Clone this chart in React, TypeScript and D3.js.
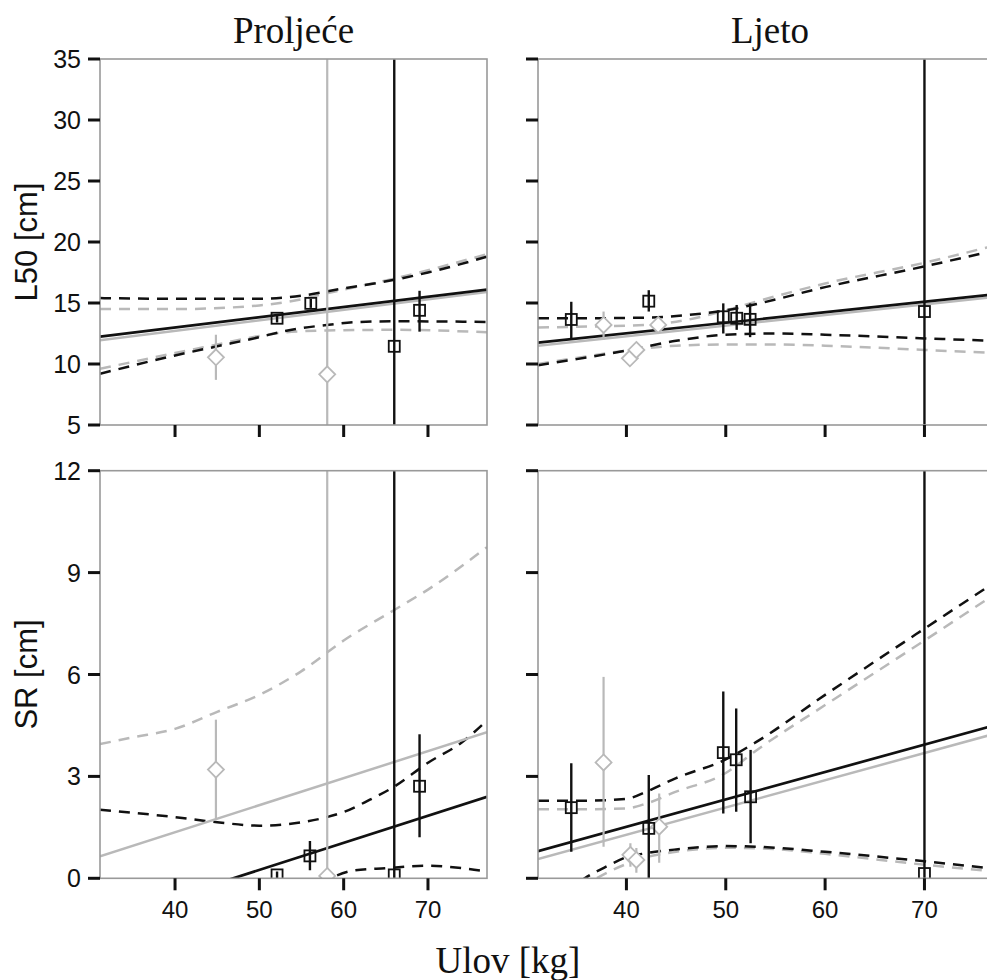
import * as d3 from 'd3';

type Pt = [number, number];
interface Obs { x: number; y: number; lo: number; hi: number }

const seasons = ['Proljeće', 'Ljeto'];
const xTicks = [40, 50, 60, 70];
const l50Ticks = [5, 10, 15, 20, 25, 30, 35];
const srTicks = [0, 3, 6, 9, 12];

// Proljeće – L50
const springL50Black: Pt[] = [[31.1, 12.25], [77, 16.1]];
const springL50Grey: Pt[] = [[31.1, 11.95], [77, 15.9]];
const springL50BlackUpper: Pt[] = [[31.1, 15.4], [40, 15.35], [50, 15.35], [55, 15.6], [60, 16.2], [66, 16.9], [70, 17.5], [77, 18.8]];
const springL50BlackLower: Pt[] = [[31.1, 9.2], [40, 10.7], [45, 11.45], [50, 12.2], [53, 12.7], [58, 13.2], [62, 13.45], [66, 13.5], [77, 13.45]];
const springL50GreyUpper: Pt[] = [[31.1, 14.5], [40, 14.5], [50, 14.8], [55, 15.3], [58, 15.8], [60, 16.1], [66, 17.0], [77, 19.0]];
const springL50GreyLower: Pt[] = [[31.1, 9.6], [40, 10.9], [45, 11.6], [50, 12.3], [53, 12.6], [58, 12.75], [66, 12.8], [77, 12.6]];
const springL50Squares: Obs[] = [
  { x: 52.1, y: 13.75, lo: 13.4, hi: 14.1 },
  { x: 56.1, y: 14.97, lo: 14.6, hi: 15.35 },
  { x: 66.0, y: 11.45, lo: -20, hi: 60 },
  { x: 69.0, y: 14.4, lo: 12.65, hi: 16.0 },
];
const springL50Diamonds: Obs[] = [
  { x: 44.85, y: 10.55, lo: 8.7, hi: 12.4 },
  { x: 58.05, y: 9.15, lo: -20, hi: 60 },
];

// Ljeto – L50
const summerL50Black: Pt[] = [[31.1, 11.75], [77, 15.7]];
const summerL50Grey: Pt[] = [[31.1, 11.5], [77, 15.5]];
const summerL50BlackUpper: Pt[] = [[31.1, 13.75], [35, 13.75], [42, 13.8], [46, 14.0], [50, 14.4], [53, 14.9], [60, 16.3], [70, 18.0], [77, 19.3]];
const summerL50BlackLower: Pt[] = [[31.1, 9.9], [35, 10.4], [40, 11.1], [45, 11.9], [50, 12.4], [55, 12.5], [60, 12.4], [70, 12.1], [77, 11.9]];
const summerL50GreyUpper: Pt[] = [[31.1, 13.0], [35, 13.05], [42, 13.2], [46, 13.6], [50, 14.4], [53, 15.1], [60, 16.6], [70, 18.3], [77, 19.7]];
const summerL50GreyLower: Pt[] = [[31.1, 10.0], [35, 10.5], [40, 11.1], [45, 11.5], [50, 11.6], [55, 11.6], [60, 11.5], [70, 11.15], [77, 10.9]];
const summerL50Squares: Obs[] = [
  { x: 34.45, y: 13.65, lo: 12.1, hi: 15.1 },
  { x: 42.25, y: 15.15, lo: 14.3, hi: 16.05 },
  { x: 49.75, y: 13.87, lo: 12.5, hi: 14.97 },
  { x: 51.1, y: 13.75, lo: 12.8, hi: 14.84 },
  { x: 52.45, y: 13.66, lo: 12.2, hi: 14.97 },
  { x: 70.0, y: 14.3, lo: -20, hi: 60 },
];
const summerL50Diamonds: Obs[] = [
  { x: 37.7, y: 13.2, lo: 11.97, hi: 14.3 },
  { x: 40.35, y: 10.47, lo: 10.1, hi: 10.85 },
  { x: 41.0, y: 11.15, lo: 10.75, hi: 11.55 },
  { x: 43.2, y: 13.2, lo: 12.65, hi: 13.6 },
];

// Proljeće – SR
const springSRBlack: Pt[] = [[31.1, -1.26], [77, 2.4]];
const springSRGrey: Pt[] = [[31.1, 0.65], [77, 4.3]];
const springSRBlackUpper: Pt[] = [[31.1, 2.02], [40, 1.8], [45, 1.65], [50, 1.55], [55, 1.65], [58, 1.8], [60, 1.95], [63, 2.3], [66, 2.7], [70, 3.4], [74, 4.0], [77, 4.65]];
const springSRBlackLower: Pt[] = [[50, -1.5], [55, -0.5], [58.4, 0], [61, 0.22], [65, 0.3], [70, 0.37], [74, 0.3], [77, 0.2]];
const springSRGreyUpper: Pt[] = [[31.1, 3.95], [35, 4.15], [40, 4.4], [45, 4.9], [50, 5.4], [55, 6.1], [60, 7.0], [66, 7.9], [70, 8.5], [77, 9.75]];
const springSRSquares: Obs[] = [
  { x: 52.1, y: 0.1, lo: 0, hi: 0.2 },
  { x: 56.0, y: 0.66, lo: 0.24, hi: 1.1 },
  { x: 66.0, y: 0.1, lo: -10, hi: 30 },
  { x: 69.0, y: 2.71, lo: 1.21, hi: 4.24 },
];
const springSRDiamonds: Obs[] = [
  { x: 44.85, y: 3.2, lo: 1.77, hi: 4.67 },
  { x: 58.05, y: 0.07, lo: -10, hi: 30 },
];

// Ljeto – SR
const summerSRBlack: Pt[] = [[31.1, 0.8], [77, 4.5]];
const summerSRGrey: Pt[] = [[31.1, 0.57], [77, 4.25]];
const summerSRBlackUpper: Pt[] = [[31.1, 2.28], [35, 2.28], [40, 2.34], [42, 2.55], [45, 2.95], [50, 3.5], [53, 4.0], [60, 5.4], [70, 7.35], [77, 8.7]];
const summerSRBlackLower: Pt[] = [[31.1, -1.2], [35.8, 0], [38, 0.35], [40, 0.62], [42, 0.74], [45, 0.85], [50, 0.95], [55, 0.9], [60, 0.78], [70, 0.5], [77, 0.28]];
const summerSRGreyUpper: Pt[] = [[31.1, 2.03], [35, 2.03], [40, 2.06], [42, 2.2], [45, 2.55], [50, 3.1], [53, 3.75], [60, 5.1], [70, 7.0], [77, 8.35]];
const summerSRGreyLower: Pt[] = [[31.1, -1.4], [37, 0], [40, 0.42], [42, 0.62], [45, 0.78], [50, 0.9], [55, 0.86], [60, 0.72], [70, 0.4], [77, 0.2]];
const summerSRSquares: Obs[] = [
  { x: 34.45, y: 2.08, lo: 0.78, hi: 3.39 },
  { x: 42.25, y: 1.47, lo: -1, hi: 3.04 },
  { x: 49.75, y: 3.7, lo: 1.91, hi: 5.5 },
  { x: 51.05, y: 3.49, lo: 1.96, hi: 5.0 },
  { x: 52.5, y: 2.4, lo: 1.03, hi: 3.78 },
  { x: 70.0, y: 0.14, lo: -10, hi: 30 },
];
const summerSRDiamonds: Obs[] = [
  { x: 37.7, y: 3.41, lo: 0.93, hi: 5.93 },
  { x: 40.4, y: 0.69, lo: 0.34, hi: 1.03 },
  { x: 41.0, y: 0.54, lo: 0.16, hi: 0.89 },
  { x: 43.3, y: 1.52, lo: 0.46, hi: 2.5 },
];

const BLACK = '#111';
const GREY = '#b9b9b9';
const SANS = '"Liberation Sans", Arial, sans-serif';
const SERIF = '"Liberation Serif", "Times New Roman", serif';

const xLeft = d3.scaleLinear().domain([31.1, 77]).range([100, 487]);
const xRight = d3.scaleLinear().domain([31.1, 77]).range([538, 994]);
const yTop = d3.scaleLinear().domain([5, 35]).range([425, 59]);
const yBottom = d3.scaleLinear().domain([0, 12]).range([878.3, 470.7]);

interface PanelProps {
  id: string;
  xs: d3.ScaleLinear<number, number>;
  ys: d3.ScaleLinear<number, number>;
  yTicks: number[];
  yLabels: boolean;
  xLabels: boolean;
  black: Pt[];
  grey: Pt[];
  blackBand: Pt[][];
  greyBand: Pt[][];
  squares: Obs[];
  diamonds: Obs[];
}

function Panel(p: PanelProps) {
  const { xs, ys } = p;
  const [x0, x1] = xs.range();
  const [y0, y1] = ys.range(); // y0 bottom, y1 top
  const curve = d3.line<Pt>().x(d => xs(d[0])).y(d => ys(d[1])).curve(d3.curveMonotoneX);
  const straight = d3.line<Pt>().x(d => xs(d[0])).y(d => ys(d[1]));
  const clip = `url(#clip-${p.id})`;
  const sq = 11;
  const dm = 8;

  return (
    <g>
      <defs>
        <clipPath id={`clip-${p.id}`}>
          <rect x={x0} y={y1} width={x1 - x0} height={y0 - y1} />
        </clipPath>
      </defs>
      <g clipPath={clip} fill="none" strokeWidth={2.5}>
        {p.greyBand.map((b, i) => (
          <path key={`gb${i}`} d={curve(b) ?? ''} stroke={GREY} strokeDasharray="11,8" />
        ))}
        {p.blackBand.map((b, i) => (
          <path key={`bb${i}`} d={curve(b) ?? ''} stroke={BLACK} strokeDasharray="11,8" />
        ))}
        <path d={straight(p.grey) ?? ''} stroke={GREY} />
        <path d={straight(p.black) ?? ''} stroke={BLACK} strokeWidth={2.7} />
        {p.diamonds.map((d, i) => (
          <line key={`de${i}`} x1={xs(d.x)} x2={xs(d.x)} y1={ys(d.lo)} y2={ys(d.hi)} stroke={GREY} strokeWidth={2.2} />
        ))}
        {p.diamonds.map((d, i) => {
          const cx = xs(d.x);
          const cy = ys(d.y);
          return (
            <path key={`dm${i}`}
              d={`M${cx},${cy - dm}L${cx + dm},${cy}L${cx},${cy + dm}L${cx - dm},${cy}Z`}
              fill="#fff" stroke={GREY} strokeWidth={1.8} />
          );
        })}
        {p.squares.map((d, i) => (
          <line key={`se${i}`} x1={xs(d.x)} x2={xs(d.x)} y1={ys(d.lo)} y2={ys(d.hi)} stroke={BLACK} strokeWidth={2.4} />
        ))}
        {p.squares.map((d, i) => (
          <rect key={`sq${i}`} x={xs(d.x) - sq / 2} y={ys(d.y) - sq / 2} width={sq} height={sq}
            stroke={BLACK} strokeWidth={1.8} />
        ))}
      </g>
      <rect x={x0} y={y1} width={x1 - x0} height={y0 - y1} fill="none" stroke="#999" strokeWidth={1.6} />
      {p.yTicks.map(t => (
        <g key={`yt${t}`}>
          <line x1={x0 - 12} x2={x0} y1={ys(t)} y2={ys(t)} stroke={BLACK} strokeWidth={3} />
          {p.yLabels && (
            <text x={x0 - 19} y={ys(t) + 9} textAnchor="end" fontFamily={SANS} fontSize={25} fill="#111">{t}</text>
          )}
        </g>
      ))}
      {xTicks.map(t => (
        <g key={`xt${t}`}>
          <line x1={xs(t)} x2={xs(t)} y1={y0} y2={y0 + 12} stroke={BLACK} strokeWidth={3} />
          {p.xLabels && (
            <text x={xs(t)} y={y0 + 40} textAnchor="middle" fontFamily={SANS} fontSize={24} fill="#111">{t}</text>
          )}
        </g>
      ))}
    </g>
  );
}

export default function App() {
  return (
    <svg width={987} height={980} style={{ position: 'absolute', left: 0, top: 0, background: '#fff' }}>
      <rect width={987} height={980} fill="#fff" />
      <Panel id="tl" xs={xLeft} ys={yTop} yTicks={l50Ticks} yLabels xLabels={false}
        black={springL50Black} grey={springL50Grey}
        blackBand={[springL50BlackUpper, springL50BlackLower]}
        greyBand={[springL50GreyUpper, springL50GreyLower]}
        squares={springL50Squares} diamonds={springL50Diamonds} />
      <Panel id="tr" xs={xRight} ys={yTop} yTicks={l50Ticks} yLabels={false} xLabels={false}
        black={summerL50Black} grey={summerL50Grey}
        blackBand={[summerL50BlackUpper, summerL50BlackLower]}
        greyBand={[summerL50GreyUpper, summerL50GreyLower]}
        squares={summerL50Squares} diamonds={summerL50Diamonds} />
      <Panel id="bl" xs={xLeft} ys={yBottom} yTicks={srTicks} yLabels xLabels
        black={springSRBlack} grey={springSRGrey}
        blackBand={[springSRBlackUpper, springSRBlackLower]}
        greyBand={[springSRGreyUpper]}
        squares={springSRSquares} diamonds={springSRDiamonds} />
      <Panel id="br" xs={xRight} ys={yBottom} yTicks={srTicks} yLabels={false} xLabels
        black={summerSRBlack} grey={summerSRGrey}
        blackBand={[summerSRBlackUpper, summerSRBlackLower]}
        greyBand={[summerSRGreyUpper, summerSRGreyLower]}
        squares={summerSRSquares} diamonds={summerSRDiamonds} />

      <text x={(xLeft.range()[0] + xLeft.range()[1]) / 2} y={43} textAnchor="middle" fontFamily={SERIF} fontSize={37} fill="#111">{seasons[0]}</text>
      <text x={770} y={43} textAnchor="middle" fontFamily={SERIF} fontSize={37} fill="#111">{seasons[1]}</text>
      <text transform="translate(37,242) rotate(-90)" textAnchor="middle" fontFamily={SANS} fontSize={31} fill="#111">L50 [cm]</text>
      <text transform="translate(37,674.5) rotate(-90)" textAnchor="middle" fontFamily={SANS} fontSize={31} fill="#111">SR [cm]</text>
      <text x={508} y={973} textAnchor="middle" fontFamily={SERIF} fontSize={37} fill="#111">Ulov [kg]</text>
    </svg>
  );
}
